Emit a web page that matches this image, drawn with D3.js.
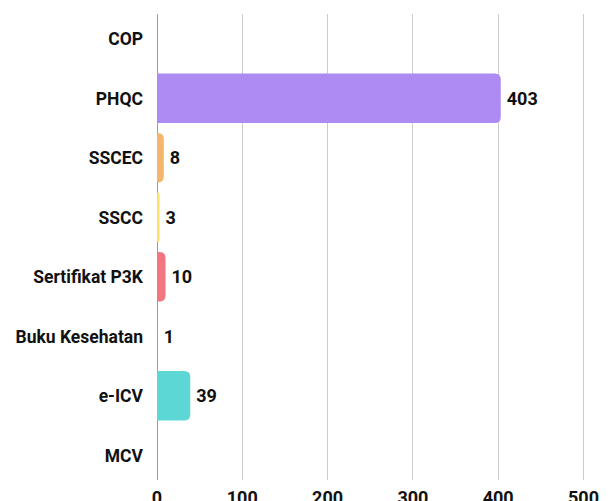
<!DOCTYPE html>
<html>
<head>
<meta charset="utf-8">
<script src="https://cdn.jsdelivr.net/npm/d3@7"></script>
<style>
  body { margin: 0; background: #fff; }
  svg { display: block; font-family: Roboto, "Noto Sans", sans-serif; }
  .cat-label { font-weight: 700; font-size: 17.5px; fill: #111; }
  .val-label, .tick-label { font-weight: 700; font-size: 18px; fill: #111; }
</style>
</head>
<body>
<div id="chart"></div>
<script>
// data
const categories = ["COP", "PHQC", "SSCEC", "SSCC", "Sertifikat P3K", "Buku Kesehatan", "e-ICV", "MCV"];
const values = [0, 403, 8, 3, 10, 1, 39, 0];
const barColors = ["#6fa8f5", "#ae8bf3", "#f4b66c", "#fde068", "#f1767f", "#ee6dd0", "#5dd7d6", "#8fd98a"];
const xTicks = [0, 100, 200, 300, 400, 500];

const svgWidth = 614;
const svgHeight = 501;

const svg = d3.select("#chart")
  .append("svg")
  .attr("width", svgWidth)
  .attr("height", svgHeight);

// scales
const x = d3.scaleLinear().domain([0, 500]).range([157, 583.5]);
const y = d3.scaleBand()
  .domain(categories)
  .range([9, 485])
  .paddingInner(0.17)
  .paddingOuter(0.085);

const rows = categories.map((c, i) => ({ cat: c, value: values[i], color: barColors[i] }));

// gridlines
svg.append("g")
  .selectAll("line")
  .data(xTicks)
  .enter()
  .append("line")
  .attr("x1", d => x(d))
  .attr("x2", d => x(d))
  .attr("y1", 14)
  .attr("y2", 480)
  .attr("stroke", d => d === 0 ? "#9a9a9a" : "#cccccc")
  .attr("stroke-width", 1)
  .attr("shape-rendering", "crispEdges");

// bar with rounded right side
const barPath = (d) => {
  const x0 = x(0);
  const w = x(d.value) - x0;
  const y0 = y(d.cat);
  const h = y.bandwidth();
  const r = Math.min(6, w, h / 2);
  return `M${x0},${y0}H${x0 + w - r}` +
    `Q${x0 + w},${y0} ${x0 + w},${y0 + r}` +
    `V${y0 + h - r}` +
    `Q${x0 + w},${y0 + h} ${x0 + w - r},${y0 + h}` +
    `H${x0}Z`;
};

svg.append("g")
  .selectAll("path")
  .data(rows.filter(d => d.value > 0))
  .enter()
  .append("path")
  .attr("d", barPath)
  .attr("fill", d => d.color);

// value labels
svg.append("g")
  .selectAll("text")
  .data(rows.filter(d => d.value > 0))
  .enter()
  .append("text")
  .attr("class", "val-label")
  .attr("x", d => x(d.value) + 6)
  .attr("y", d => y(d.cat) + y.bandwidth() / 2)
  .attr("dy", "0.36em")
  .text(d => d.value);

// category labels
svg.append("g")
  .selectAll("text")
  .data(categories)
  .enter()
  .append("text")
  .attr("class", "cat-label")
  .attr("text-anchor", "end")
  .attr("x", 143)
  .attr("y", d => y(d) + y.bandwidth() / 2)
  .attr("dy", "0.36em")
  .text(d => d);

// x tick labels (partly cut at the bottom edge, as in the reference)
svg.append("g")
  .selectAll("text")
  .data(xTicks)
  .enter()
  .append("text")
  .attr("class", "tick-label")
  .attr("text-anchor", "middle")
  .attr("x", d => x(d))
  .attr("y", 503.5)
  .text(d => d);
</script>
</body>
</html>
